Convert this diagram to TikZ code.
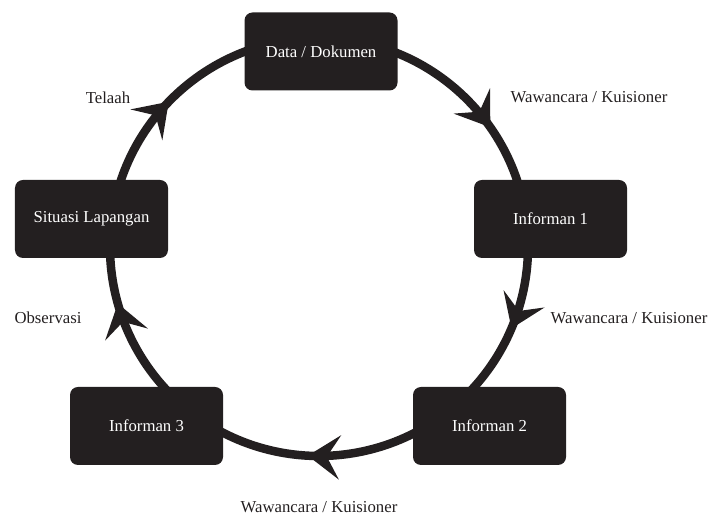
\documentclass[tikz,border=0pt]{standalone}
\usepackage{fontspec}
\setmainfont{Liberation Serif}
\usetikzlibrary{arrows.meta,decorations.markings,calc,backgrounds}
\definecolor{ink}{RGB}{35,31,32}
\newcommand\ringarc[3]{%
  \draw[ring, tipat=#3] let \p1=($(#1)-(c)$), \p2=($(#2)-(c)$),
    \n1={atan2(\y1,\x1)}, \n2={\n1 - mod(\n1-atan2(\y2,\x2)+720,360)} in
    ($(c)+(\n1:209bp)$) arc[start angle=\n1, end angle=\n2, radius=209bp];}
\begin{document}
\begin{tikzpicture}[x=1bp,y=1bp,
  box/.style={fill=ink, rounded corners=8bp, minimum width=153bp, minimum height=78bp,
    inner sep=0pt, text=white, font=\fontsize{16.8}{20}\selectfont},
  lbl/.style={text=ink, inner sep=0pt, font=\fontsize{16.8}{20}\selectfont},
  ring/.style={draw=ink, color=ink, line width=8.5bp},
  tipat/.style={postaction={decorate}, decoration={markings,
    mark=at position #1 with {\arrow{Stealth[length=32bp,width=44bp,inset=13bp]}}}}
]
\useasboundingbox (0,0) rectangle (711,517);
\coordinate (c) at (319,270);
\node[box] (data) at (321,465.5) {Data / Dokumen};
\node[box] (inf1) at (550.5,298) {Informan 1};
\node[box] (inf2) at (489.5,91) {Informan 2};
\node[box] (inf3) at (146.5,91) {Informan 3};
\node[box] (sit) at (91.5,298) {Situasi Lapangan};
\begin{scope}[on background layer]
\ringarc{data}{inf1}{0.66}
\ringarc{inf1}{inf2}{0.56}
\ringarc{inf2}{inf3}{0.533}
\ringarc{inf3}{sit}{0.572}
\ringarc{sit}{data}{0.443}
\end{scope}
\node[lbl] (w1) at (589,420) {Wawancara / Kuisioner};
\node[lbl] (w2) at (629,199) {Wawancara / Kuisioner};
\node[lbl] (w3) at (319,10) {Wawancara / Kuisioner};
\node[lbl] (tel) at (108,419) {Telaah};
\node[lbl] (obs) at (48,199) {Observasi};
\end{tikzpicture}
\end{document}
